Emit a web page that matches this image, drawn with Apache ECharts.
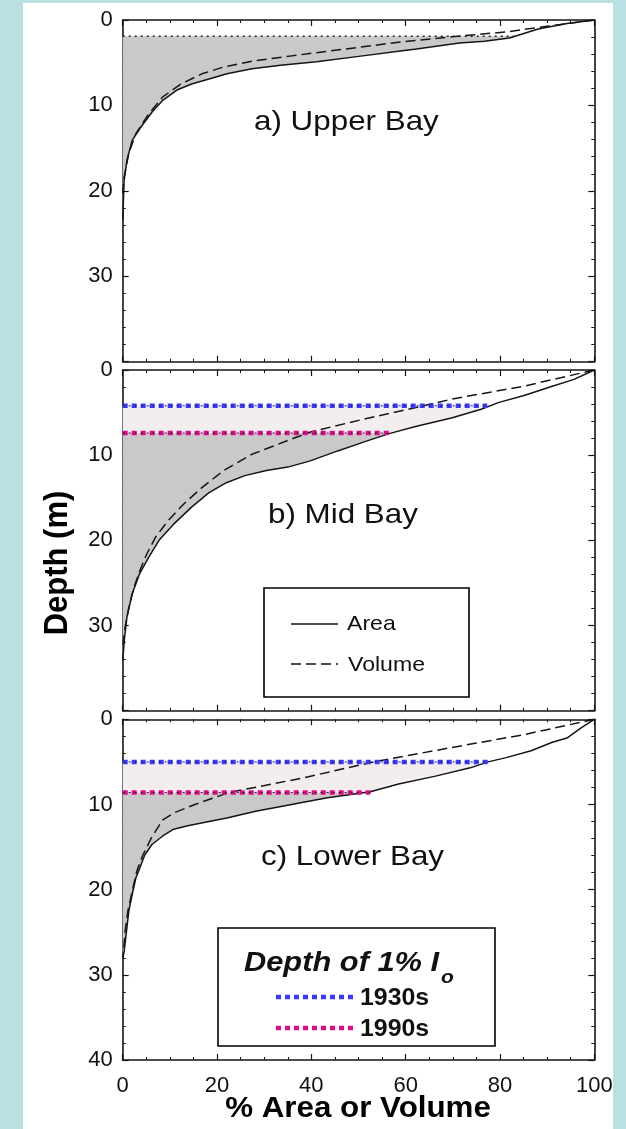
<!DOCTYPE html>
<html>
<head>
<meta charset="utf-8">
<script src="https://cdn.jsdelivr.net/npm/echarts@6/dist/echarts.min.js"></script>
<style>
  html, body { margin: 0; padding: 0; background: #b9e0e3; }
  #frame { position: absolute; left: 23px; top: 3px; width: 590px; height: 1126px; background: #fff; }
  #main { position: absolute; left: 0; top: 0; width: 626px; height: 1129px; }
</style>
</head>
<body>
<div id="frame"></div>
<div id="main"></div>
<script>
// curves: [% area or volume, depth (m)]
var upperArea = [[100,0],[94.2,0.4],[88.1,1.05],[82,2.1],[76.7,2.5],[71.4,2.7],[62.3,3.4],[59.3,3.6],[50.9,4.2],[41.1,4.9],[33.5,5.3],[27.4,5.7],[22.1,6.3],[18.3,6.9],[14.6,7.5],[11.5,8.2],[8.5,9.4],[6.2,10.8],[3.9,12.5],[2.0,14.1],[0.9,16.4],[0.3,18.8],[0.15,21.1],[0,23.4]];
var upperVolume = [[100,0],[90.4,0.7],[81.3,1.4],[69.9,1.95],[58.5,2.6],[47.2,3.4],[35.8,4.2],[28.2,4.75],[21.4,5.5],[16.8,6.3],[12.3,7.5],[8.5,9.0],[5.5,11.0],[2.8,13.3],[1.3,15.6],[0.3,18.4],[0,20.3]];

var midArea = [[100,0],[95.7,1.1],[91.1,1.9],[85.1,3.0],[79.8,3.8],[76.0,4.6],[69.9,5.6],[62.3,6.6],[56.3,7.5],[50.9,8.5],[45.6,9.5],[39.6,10.7],[35.0,11.4],[30.5,11.8],[25.9,12.4],[22.1,13.2],[18.3,14.4],[14.6,16.1],[10.8,18.1],[7.7,20.0],[5.5,22.0],[3.6,23.9],[2.0,26.3],[0.9,29.0],[0.4,31.4],[0,34.1]];
var midVolume = [[100,0],[85.1,1.9],[69.9,3.4],[63.8,4.2],[50.9,5.8],[39.6,7.3],[27.4,9.9],[21.4,11.8],[16.8,13.8],[13.0,15.7],[9.6,17.7],[7.0,19.6],[5.1,21.6],[3.6,23.6],[2.4,25.5],[1.3,27.9],[0.5,30.2],[0,32.5]];

var lowerArea = [[100,0],[97.2,1.0],[94.2,2.2],[91.1,2.7],[86.6,3.7],[81.3,4.5],[77.5,5.0],[73.7,5.7],[66.1,6.7],[58.5,7.6],[52.5,8.5],[43.4,9.2],[35.8,10.0],[28.2,10.8],[22.1,11.6],[19.1,11.9],[13.8,12.5],[10.8,12.9],[8.5,13.7],[6.2,14.7],[4.7,15.9],[3.6,17.5],[2.8,18.6],[2.0,20.6],[1.3,22.5],[0.8,24.9],[0.3,27.3],[0,28.0]];
var lowerVolume = [[100,0],[85.1,1.8],[69.9,3.3],[53.2,5.0],[38.1,6.9],[22.5,8.6],[15.3,10.0],[10.8,11.0],[8.5,11.8],[6.1,13.9],[4.3,15.9],[3.0,17.8],[2.0,20.2],[1.1,22.5],[0.5,24.9],[0.15,27.3],[0,28.0]];

// depth of 1% light: [depth, % where the line stops]
var upperLight = [1.9, 83];
var mid1930s = [4.2, 77.3];
var mid1990s = [7.4, 56.5];
var lower1930s = [5.0, 77.5];
var lower1990s = [8.6, 52.5];

var panelNames = ['a) Upper Bay', 'b) Mid Bay', 'c) Lower Bay'];
var xTicks = [0, 20, 40, 60, 80, 100];
var depthTicks = [0, 10, 20, 30, 40];

var GRAY = '#c9c9c9', PINK = '#f3eded', BLUE = '#3838ff', MAGENTA = '#e0088c', INK = '#151515';
var FONT = "'Liberation Sans', Arial, sans-serif";

var myChart = echarts.init(document.getElementById('main'));

var gridTops = [20, 370, 719.3];
var gridHeights = [341.7, 340.7, 340.7];

var grids = [], xAxes = [], yAxes = [], series = [];

function axisCommon(extra) {
    var a = {
        type: 'value',
        axisLine: { show: true, onZero: false, lineStyle: { color: INK, width: 1.6 } },
        axisTick: { show: true, inside: true, length: 6, lineStyle: { color: INK, width: 1.2 } },
        minorTick: { show: true, length: 3, lineStyle: { color: INK, width: 1 } },
        splitLine: { show: false },
        minorSplitLine: { show: false }
    };
    for (var k in extra) a[k] = extra[k];
    return a;
}

for (var i = 0; i < 3; i++) {
    grids.push({ left: 122.7, width: 471.6, top: gridTops[i], height: gridHeights[i] });
    var xBase = { gridIndex: i, min: xTicks[0], max: xTicks[xTicks.length - 1], interval: 20 };
    var xb = axisCommon(xBase);
    xb.position = 'bottom';
    xb.minorTick.splitNumber = 4;
    xb.axisLabel = { show: i === 2, margin: 15, fontSize: 22, color: '#111', fontFamily: FONT };
    var xt = axisCommon(xBase);
    xt.position = 'top';
    xt.minorTick.splitNumber = 4;
    xt.axisLabel = { show: false };
    xAxes.push(xb, xt);

    var yBase = { gridIndex: i, min: depthTicks[0], max: depthTicks[depthTicks.length - 1], interval: 10, inverse: true };
    var yl = axisCommon(yBase);
    yl.position = 'left';
    yl.minorTick.splitNumber = 5;
    yl.axisLabel = { show: true, margin: 10, fontSize: 22, color: '#111', fontFamily: FONT, showMaxLabel: i === 2 };
    var yr = axisCommon(yBase);
    yr.position = 'right';
    yr.minorTick.splitNumber = 5;
    yr.axisLabel = { show: false };
    yAxes.push(yl, yr);
}

// polygon between x = 0 and the area curve, from depth dTop down to dBot
function band(curve, dTop, xTop, dBot, xBot) {
    var pts = [[0, dTop], [xTop, dTop]];
    curve.forEach(function (p) { if (p[1] > dTop && p[1] < dBot) pts.push(p); });
    if (xBot != null) { pts.push([xBot, dBot]); pts.push([0, dBot]); }
    else { pts.push([0, curve[curve.length - 1][1]]); }
    return pts;
}

function fillSeries(panel, poly, color) {
    return {
        type: 'custom', xAxisIndex: panel * 2, yAxisIndex: panel * 2, z: 1, silent: true,
        data: poly,
        renderItem: function (params, api) {
            if (params.dataIndex !== 0) return;
            var pts = poly.map(function (p) { return api.coord(p); });
            return { type: 'polygon', shape: { points: pts }, style: { fill: color } };
        }
    };
}

function curveSeries(panel, data, dashed) {
    return {
        type: 'line', xAxisIndex: panel * 2, yAxisIndex: panel * 2, z: 3, silent: true,
        data: data, symbol: 'none', smooth: false,
        lineStyle: { color: INK, width: 1.5, type: dashed ? [10, 5] : 'solid' }
    };
}

function lightSeries(panel, light, color) {
    var list = [];
    if (color) {
        list.push({
            type: 'line', xAxisIndex: panel * 2, yAxisIndex: panel * 2, z: 4, silent: true,
            data: [[0, light[0]], [light[1], light[0]]], symbol: 'none',
            lineStyle: { color: color, width: 4.5, type: [5, 4] }
        });
    }
    list.push({
        type: 'line', xAxisIndex: panel * 2, yAxisIndex: panel * 2, z: 5, silent: true,
        data: [[0, light[0]], [light[1], light[0]]], symbol: 'none',
        lineStyle: { color: '#222', width: color ? 1 : 1.6, type: [2, 4] }
    });
    return list;
}

// a) Upper Bay
series.push(fillSeries(0, band(upperArea, upperLight[0], upperLight[1], Infinity, null), GRAY));
series.push(curveSeries(0, upperArea, false), curveSeries(0, upperVolume, true));
series = series.concat(lightSeries(0, upperLight, null));

// b) Mid Bay
series.push(fillSeries(1, band(midArea, mid1930s[0], mid1930s[1], mid1990s[0], mid1990s[1]), PINK));
series.push(fillSeries(1, band(midArea, mid1990s[0], mid1990s[1], Infinity, null), GRAY));
series.push(curveSeries(1, midArea, false), curveSeries(1, midVolume, true));
series = series.concat(lightSeries(1, mid1930s, BLUE), lightSeries(1, mid1990s, MAGENTA));

// c) Lower Bay
series.push(fillSeries(2, band(lowerArea, lower1930s[0], lower1930s[1], lower1990s[0], lower1990s[1]), PINK));
series.push(fillSeries(2, band(lowerArea, lower1990s[0], lower1990s[1], Infinity, null), GRAY));
series.push(curveSeries(2, lowerArea, false), curveSeries(2, lowerVolume, true));
series = series.concat(lightSeries(2, lower1930s, BLUE), lightSeries(2, lower1990s, MAGENTA));

function txt(x, y, text, font, extra) {
    var t = {
        type: 'text', x: x, y: y, z: 100, silent: true,
        style: { text: text, font: font, fill: '#111', textAlign: 'left', textVerticalAlign: 'middle' }
    };
    for (var k in extra) t[k] = extra[k];
    return t;
}

var graphics = [
    txt(254, 122, panelNames[0], '28px ' + FONT, { scaleX: 1.12 }),
    txt(268, 515, panelNames[1], '28px ' + FONT, { scaleX: 1.12 }),
    txt(261, 857, panelNames[2], '28px ' + FONT, { scaleX: 1.12 }),
    // axis titles
    {
        type: 'text', x: 358, y: 1109, z: 100, silent: true, scaleX: 1.08,
        style: { text: '% Area or Volume', font: 'bold 29px ' + FONT, fill: '#000', textAlign: 'center', textVerticalAlign: 'middle' }
    },
    {
        type: 'text', x: 58, y: 563, z: 100, silent: true, rotation: Math.PI / 2, scaleY: 1.1,
        style: { text: 'Depth (m)', font: 'bold 31px ' + FONT, fill: '#000', textAlign: 'center', textVerticalAlign: 'middle' }
    },
    // legend, panel b
    { type: 'rect', z: 90, silent: true, shape: { x: 264, y: 588, width: 205, height: 109 }, style: { fill: '#fff', stroke: '#000', lineWidth: 1.6 } },
    { type: 'line', z: 100, silent: true, shape: { x1: 291, y1: 624, x2: 338, y2: 624 }, style: { stroke: INK, lineWidth: 1.4 } },
    { type: 'line', z: 100, silent: true, shape: { x1: 291, y1: 664, x2: 338, y2: 664 }, style: { stroke: INK, lineWidth: 1.4, lineDash: [10, 5] } },
    txt(347, 624, 'Area', '21px ' + FONT, { scaleX: 1.1 }),
    txt(348, 665, 'Volume', '21px ' + FONT, { scaleX: 1.1 }),
    // legend, panel c
    { type: 'rect', z: 90, silent: true, shape: { x: 218, y: 928, width: 277, height: 118 }, style: { fill: '#fff', stroke: '#000', lineWidth: 1.6 } },
    txt(244, 963, 'Depth of 1% I', 'italic bold 28px ' + FONT, { scaleX: 1.1 }),
    txt(441, 978, 'o', 'italic bold 19px ' + FONT, { scaleX: 1.1 }),
    { type: 'line', z: 100, silent: true, shape: { x1: 276, y1: 997, x2: 354, y2: 997 }, style: { stroke: BLUE, lineWidth: 4.5, lineDash: [5, 4] } },
    { type: 'line', z: 100, silent: true, shape: { x1: 276, y1: 1028, x2: 354, y2: 1028 }, style: { stroke: MAGENTA, lineWidth: 4.5, lineDash: [5, 4] } },
    txt(360, 999, '1930s', 'bold 23px ' + FONT, { scaleX: 1.08 }),
    txt(360, 1030, '1990s', 'bold 23px ' + FONT, { scaleX: 1.08 })
];

option = {
    animation: false,
    grid: grids,
    xAxis: xAxes,
    yAxis: yAxes,
    series: series,
    graphic: graphics
};

myChart.setOption(option);
</script>
</body>
</html>
